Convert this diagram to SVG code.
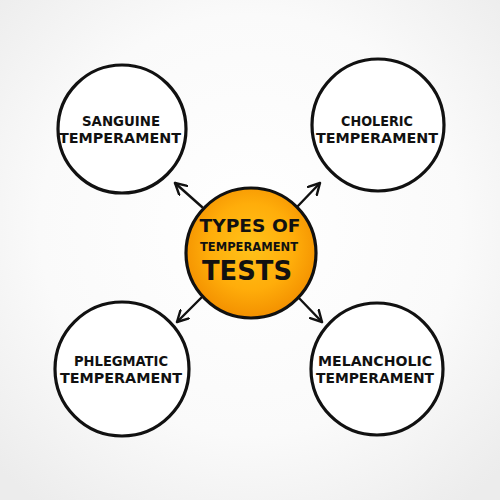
<svg xmlns="http://www.w3.org/2000/svg" width="500" height="500" viewBox="0 0 500 500">
<defs>
<radialGradient id="bg" cx="50%" cy="45%" r="70%">
<stop offset="0" stop-color="#ffffff"/>
<stop offset="0.6" stop-color="#fafafa"/>
<stop offset="1" stop-color="#ececec"/>
</radialGradient>
<radialGradient id="og" cx="50%" cy="45%" r="55%">
<stop offset="0" stop-color="#ffc21a"/>
<stop offset="0.6" stop-color="#ffad0a"/>
<stop offset="1" stop-color="#f39000"/>
</radialGradient>
<marker id="ah" viewBox="0 0 14 14" refX="12" refY="7" markerWidth="14" markerHeight="14" markerUnits="userSpaceOnUse" orient="auto">
<path d="M1,1 L12,7 L1,13" fill="none" stroke="#111" stroke-width="2.4" stroke-linecap="round" stroke-linejoin="round"/>
</marker>
</defs>
<style>
.c{fill:#fff;stroke:#111;stroke-width:3.2}
.t{font-family:"DejaVu Sans Condensed","DejaVu Sans",sans-serif;font-weight:bold;fill:#111;text-anchor:middle}
.s{font-size:14px}
.a{stroke:#111;stroke-width:2.4;fill:none;stroke-linecap:round;marker-end:url(#ah)}
</style>
<rect width="500" height="500" fill="url(#bg)"/>
<g id="connectors">
<line class="a" x1="202" y1="207" x2="175" y2="183"/>
<line class="a" x1="297" y1="207" x2="320" y2="183"/>
<line class="a" x1="202" y1="297" x2="177" y2="322"/>
<line class="a" x1="298" y1="297" x2="322" y2="322"/>
</g>
<g id="sanguine">
<circle class="c" cx="122" cy="129" r="64"/>
<text class="t s" x="121" y="126" textLength="78" lengthAdjust="spacingAndGlyphs">SANGUINE</text>
<text class="t s" x="120" y="143" textLength="122" lengthAdjust="spacingAndGlyphs">TEMPERAMENT</text>
</g>
<g id="choleric">
<circle class="c" cx="378" cy="125" r="66"/>
<text class="t s" x="377" y="126" textLength="72" lengthAdjust="spacingAndGlyphs">CHOLERIC</text>
<text class="t s" x="377" y="143" textLength="122" lengthAdjust="spacingAndGlyphs">TEMPERAMENT</text>
</g>
<g id="phlegmatic">
<circle class="c" cx="122" cy="369" r="67"/>
<text class="t s" x="121" y="366" textLength="94" lengthAdjust="spacingAndGlyphs">PHLEGMATIC</text>
<text class="t s" x="121" y="383" textLength="122" lengthAdjust="spacingAndGlyphs">TEMPERAMENT</text>
</g>
<g id="melancholic">
<circle class="c" cx="377" cy="369" r="66"/>
<text class="t s" x="375" y="366" textLength="114" lengthAdjust="spacingAndGlyphs">MELANCHOLIC</text>
<text class="t s" x="375" y="383" textLength="118" lengthAdjust="spacingAndGlyphs">TEMPERAMENT</text>
</g>
<g id="center">
<circle cx="251" cy="253" r="65" fill="url(#og)" stroke="#111" stroke-width="3.2"/>
<text class="t" x="250" y="232" font-size="18" textLength="101" lengthAdjust="spacingAndGlyphs">TYPES OF</text>
<text class="t" x="249" y="251" font-size="13" textLength="98" lengthAdjust="spacingAndGlyphs">TEMPERAMENT</text>
<text class="t" x="247" y="280" font-size="27" textLength="90" lengthAdjust="spacingAndGlyphs">TESTS</text>
</g>
</svg>
